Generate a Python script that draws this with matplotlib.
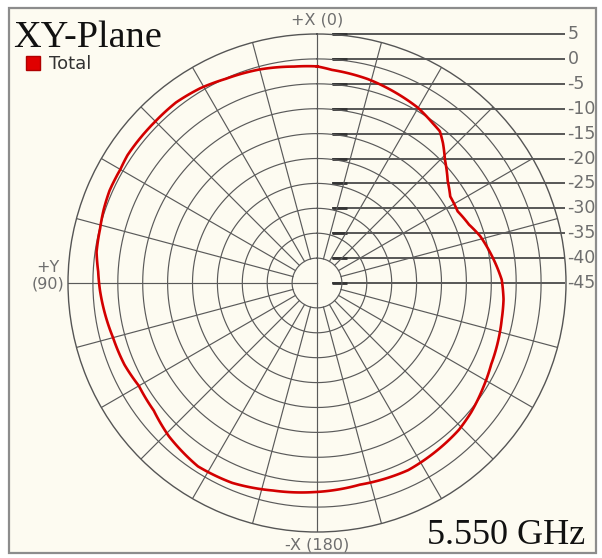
import numpy as np
import matplotlib
matplotlib.use('Agg')
import matplotlib.pyplot as plt
from matplotlib.patches import Rectangle, Patch

# ---- data (angle in degrees, CCW from +X at top; gain in dB) ----
angles_deg = [0, 6, 15, 24, 31, 38, 45, 51, 56, 60, 66, 71, 76, 82, 87, 92,
              105, 113, 120, 128, 136, 147, 157, 168, 179, 192, 206, 224, 230,
              238, 245, 252, 259, 265, 271, 275, 280, 286, 291, 297, 303, 308,
              314, 318, 321, 324, 330, 336, 346, 356]
total_db = [-1.5, -1.3, -0.6, -0.1, 0.6, 1.0, 0.9, 0.9, 0.9, 0.6, 0.6, 0.3,
            -0.1, -0.3, -1.0, -1.4,
            -2.6, -3.0, -3.7, -3.4, -2.2, -1.1, -1.4, -2.4, -3.0, -3.6, -3.2,
            -4.0, -4.6,
            -5.6, -6.4, -6.8, -7.2, -7.4, -7.9, -8.7, -9.7, -10.9, -12.3,
            -13.3, -13.1, -11.7,
            -9.3, -7.2, -5.8, -5.4, -4.4, -3.8, -2.8, -2.1]
ring_levels = [5, 0, -5, -10, -15, -20, -25, -30, -35, -40, -45]
ring_labels = ['5', '0', '-5', '-10', '-15', '-20', '-25', '-30', '-35', '-40', '-45']
spoke_angles = list(range(0, 360, 15))
axis_labels = ['+X (0)', '+Y\n(90)', '-X (180)']
series_name = 'Total'
title_text = 'XY-Plane'
freq_text = '5.550 GHz'

W, H = 602, 558
fig = plt.figure(figsize=(W / 100, H / 100), dpi=100)
fig.patch.set_facecolor('white')
fig.patches.append(Rectangle((9 / W, 1 - 553 / H), (596 - 9) / W, (553 - 8) / H,
                             transform=fig.transFigure, facecolor='#FDFBF1',
                             edgecolor='#8c8c8c', lw=1.6, zorder=-5))

cx, cy, R = 317, 283, 249
pos = [(cx - R) / W, 1 - (cy + R) / H, 2 * R / W, 2 * R / H]
rmin, rmax = -45, 5

# Cartesian overlay (below polar) for the right-hand dB scale
ax2 = fig.add_axes(pos, zorder=1)
ax2.set_xlim(rmin - rmax, rmax - rmin)
ax2.set_ylim(rmin - rmax, rmax - rmin)
ax2.axis('off')
for lev, lab in zip(ring_levels, ring_labels):
    y = lev - rmin
    ax2.plot([3, 49.8], [y, y], color='#4a4a4a', lw=1.3, solid_capstyle='butt', clip_on=False)
    ax2.plot([3, 6], [y, y], color='#333333', lw=2.0, solid_capstyle='butt', clip_on=False)
    ax2.text(50.3, y, lab, ha='left', va='center', fontsize=12.5, color='#6e6e6e', clip_on=False)

ax = fig.add_axes(pos, projection='polar', zorder=2)
ax.set_facecolor('none')
ax.set_theta_zero_location('N')
ax.set_theta_direction(1)
ax.set_rlim(rmin, rmax)
ax.grid(False)
ax.set_xticks([])
ax.set_yticks([])
ax.spines['polar'].set_color('#555555')
ax.spines['polar'].set_linewidth(1.0)

gridc = '#5a5a5a'
th = np.linspace(0, 2 * np.pi, 721)
for lev in ring_levels[1:-1]:
    ax.plot(th, np.full_like(th, lev), color=gridc, lw=0.85)
for a in spoke_angles:
    start = rmin if a % 90 == 0 else -40
    if a == 270:
        continue
    ax.plot([np.radians(a)] * 2, [start, rmax], color=gridc, lw=0.85)

t = np.radians(angles_deg + [angles_deg[0] + 360])
r = total_db + [total_db[0]]
line, = ax.plot(t, r, color='#D30000', lw=1.9, zorder=5, label=series_name)
# let matplotlib's polar transform curve each segment
line.get_path()._interpolation_steps = 24

# axis direction labels
fig.text(cx / W, 1 - 20 / H, axis_labels[0], ha='center', va='center', fontsize=11.5, color='#6e6e6e')
fig.text(48 / W, 1 - 276 / H, axis_labels[1], ha='center', va='center', fontsize=11.5,
         color='#6e6e6e', linespacing=1.15)
fig.text(cx / W, 1 - 545 / H, axis_labels[2], ha='center', va='center', fontsize=11.5, color='#6e6e6e')

fig.text(13 / W, 1 - 47 / H, title_text, fontfamily='Liberation Serif', fontsize=27.5,
         color='#111111', va='baseline', ha='left')
fig.text(585 / W, 1 - 544 / H, freq_text, fontfamily='Liberation Serif', fontsize=26,
         color='#111111', va='baseline', ha='right')

fig.legend(handles=[Patch(facecolor='#E00000', edgecolor='#B00000')], labels=[series_name],
           loc='upper left', bbox_to_anchor=(26 / W, 1 - 55 / H), frameon=False,
           handlelength=0.8, handleheight=0.8, handletextpad=0.5, fontsize=13,
           borderaxespad=0, borderpad=0, labelcolor='#333333')

fig.savefig('out.png', dpi=100, facecolor=fig.get_facecolor())
